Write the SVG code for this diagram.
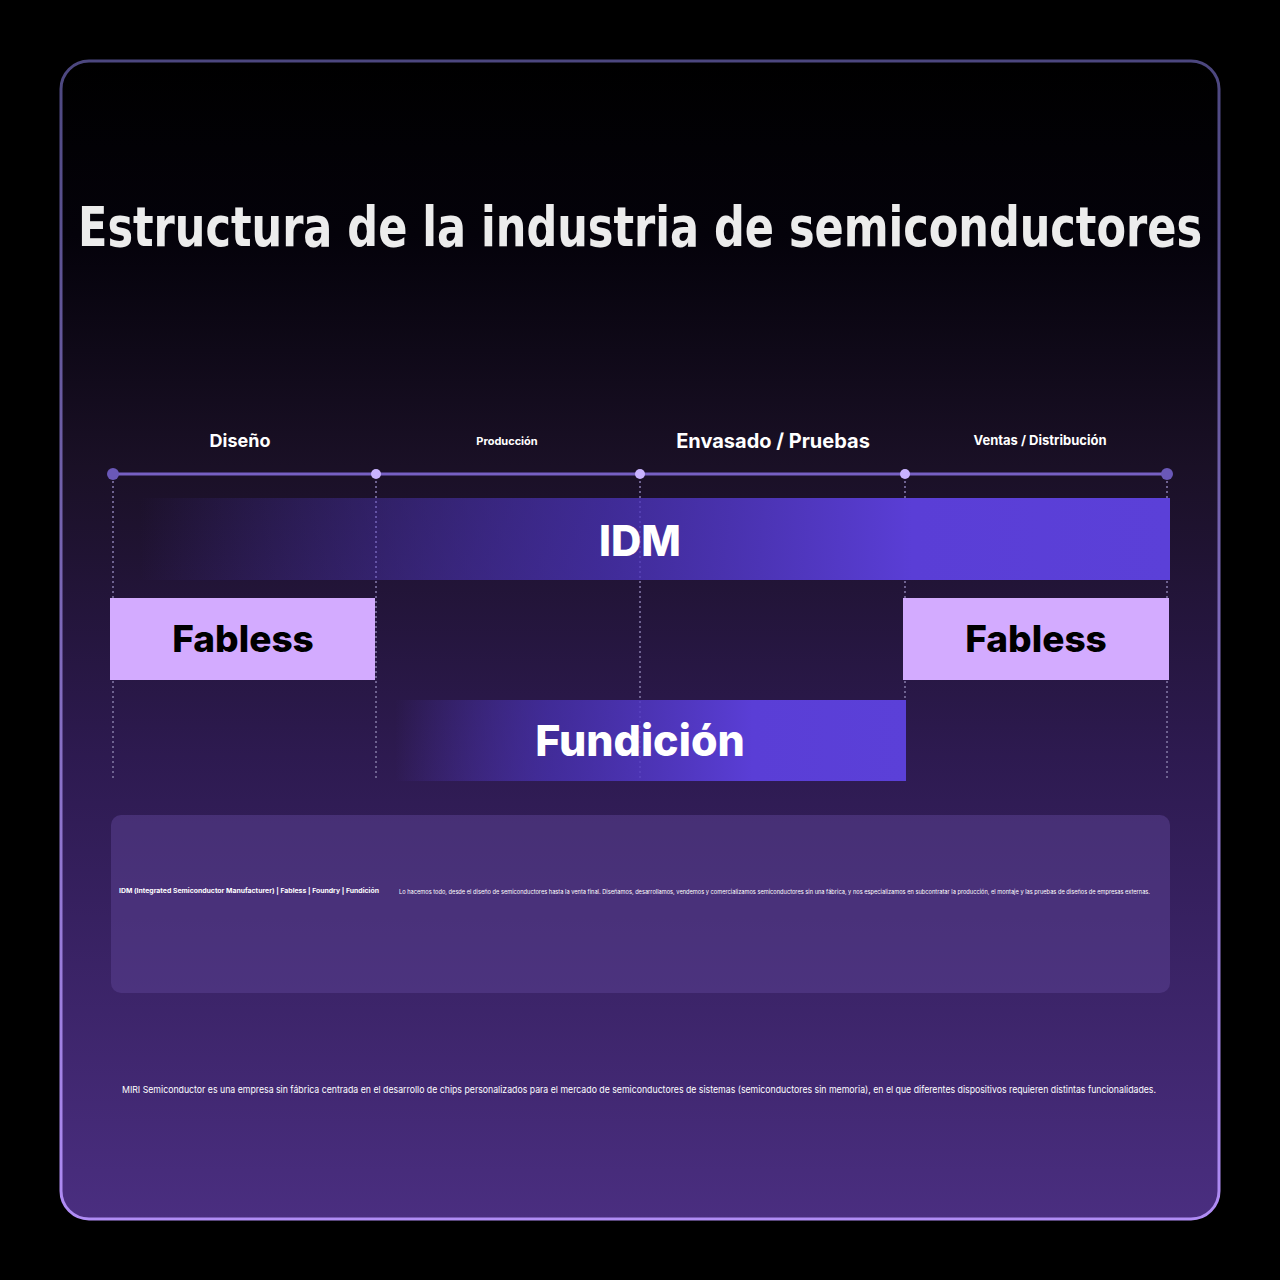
<svg xmlns="http://www.w3.org/2000/svg" width="1280" height="1280" viewBox="0 0 1280 1280">
<defs>
<linearGradient id="bgIn" x1="0" y1="0" x2="0" y2="1">
<stop offset="0" stop-color="#000000"/>
<stop offset="0.15" stop-color="#04020a"/>
<stop offset="0.35" stop-color="#1a1026"/>
<stop offset="0.6" stop-color="#2d1a50"/>
<stop offset="1" stop-color="#4a2e80"/>
</linearGradient>
<linearGradient id="frameStroke" x1="0" y1="0" x2="0" y2="1">
<stop offset="0" stop-color="#4c477f"/>
<stop offset="1" stop-color="#b08cf5"/>
</linearGradient>
<radialGradient id="glow" cx="0.5" cy="1" r="0.5">
<stop offset="0" stop-color="#2b1c55" stop-opacity="0.9"/>
<stop offset="1" stop-color="#000000" stop-opacity="0"/>
</radialGradient>
<linearGradient id="barGrad" x1="0" y1="0" x2="1" y2="0">
<stop offset="0" stop-color="#5b3fd6" stop-opacity="0"/>
<stop offset="0.45" stop-color="#4a33b8" stop-opacity="0.75"/>
<stop offset="0.75" stop-color="#5a3ed6"/>
<stop offset="1" stop-color="#5b40d8"/>
</linearGradient>
<linearGradient id="barGrad2" x1="0" y1="0" x2="1" y2="0">
<stop offset="0" stop-color="#5b3fd6" stop-opacity="0"/>
<stop offset="0.3" stop-color="#4a33b8" stop-opacity="0.7"/>
<stop offset="0.7" stop-color="#5a3ed6"/>
<stop offset="1" stop-color="#5b40d8"/>
</linearGradient>
<style>
.lbl{font-family:Inter,"Liberation Sans",sans-serif;font-weight:700;fill:#ffffff;text-anchor:middle}
.vdot{stroke:#6e6290;stroke-width:2;stroke-dasharray:2 3;fill:none}
.node{font-family:Inter,"Liberation Sans",sans-serif;font-weight:800;text-anchor:middle}
.sm{font-family:Inter,"Liberation Sans",sans-serif;fill:#ffffff}
</style>
</defs>
<rect width="1280" height="1280" fill="#000"/>
<ellipse cx="640" cy="1290" rx="600" ry="120" fill="url(#glow)"/>
<rect x="61" y="61" width="1158" height="1158" rx="28" fill="url(#bgIn)" stroke="url(#frameStroke)" stroke-width="3"/>

<text transform="translate(640,246) scale(1,1.18)" x="0" y="0" font-family="'DejaVu Sans Condensed','DejaVu Sans',sans-serif" font-stretch="condensed" font-weight="700" font-size="46" fill="#ececec" text-anchor="middle" textLength="1124" lengthAdjust="spacingAndGlyphs">Estructura de la industria de semiconductores</text>

<g id="stage-labels">
<text class="lbl" x="240" y="447" font-size="18">Diseño</text>
<text class="lbl" x="507" y="445" font-size="11">Producción</text>
<text class="lbl" x="773" y="448" font-size="20">Envasado / Pruebas</text>
<text class="lbl" x="1040" y="445" font-size="13">Ventas / Distribución</text>
</g>

<g id="connectors">
<line x1="113" y1="474" x2="1167" y2="474" stroke="#7760c4" stroke-width="3"/>
<line class="vdot" x1="113" y1="481" x2="113" y2="778"/>
<line class="vdot" x1="376" y1="481" x2="376" y2="778"/>
<line class="vdot" x1="640" y1="481" x2="640" y2="778"/>
<line class="vdot" x1="905" y1="481" x2="905" y2="778"/>
<line class="vdot" x1="1167" y1="481" x2="1167" y2="778"/>
<circle cx="113" cy="474" r="6" fill="#6a58b8"/>
<circle cx="376" cy="474" r="5" fill="#c9b3ff"/>
<circle cx="640" cy="474" r="5" fill="#c9b3ff"/>
<circle cx="905" cy="474" r="5" fill="#c9b3ff"/>
<circle cx="1167" cy="474" r="6" fill="#6a58b8"/>
</g>

<g id="idm">
<rect x="140" y="498" width="1030" height="82" fill="url(#barGrad)"/>
<text class="node" x="640" y="556" font-size="42" fill="#ffffff">IDM</text>
</g>

<g id="fabless-left">
<rect x="110" y="598" width="265" height="82" fill="#d3abff"/>
<text class="node" x="243" y="652" font-size="37" fill="#000000">Fabless</text>
</g>

<g id="fabless-right">
<rect x="903" y="598" width="266" height="82" fill="#d3abff"/>
<text class="node" x="1036" y="652" font-size="37" fill="#000000">Fabless</text>
</g>

<g id="fundicion">
<rect x="395" y="700" width="511" height="81" fill="url(#barGrad2)"/>
<text class="node" x="640" y="756" font-size="43" fill="#ffffff">Fundición</text>
</g>

<g id="info">
<rect x="111" y="815" width="1059" height="178" rx="10" fill="#5a4090" fill-opacity="0.55"/>
<text class="sm" x="119" y="893" font-size="6.6" font-weight="700" textLength="260" lengthAdjust="spacingAndGlyphs">IDM (Integrated Semiconductor Manufacturer) | Fabless | Foundry | Fundición</text>
<text class="sm" x="399" y="894" font-size="5.6" textLength="751" lengthAdjust="spacingAndGlyphs">Lo hacemos todo, desde el diseño de semiconductores hasta la venta final. Diseñamos, desarrollamos, vendemos y comercializamos semiconductores sin una fábrica, y nos especializamos en subcontratar la producción, el montaje y las pruebas de diseños de empresas externas.</text>
</g>

<text class="sm" x="122" y="1093" font-size="9.5" textLength="1034" lengthAdjust="spacingAndGlyphs">MIRI Semiconductor es una empresa sin fábrica centrada en el desarrollo de chips personalizados para el mercado de semiconductores de sistemas (semiconductores sin memoria), en el que diferentes dispositivos requieren distintas funcionalidades.</text>
</svg>
